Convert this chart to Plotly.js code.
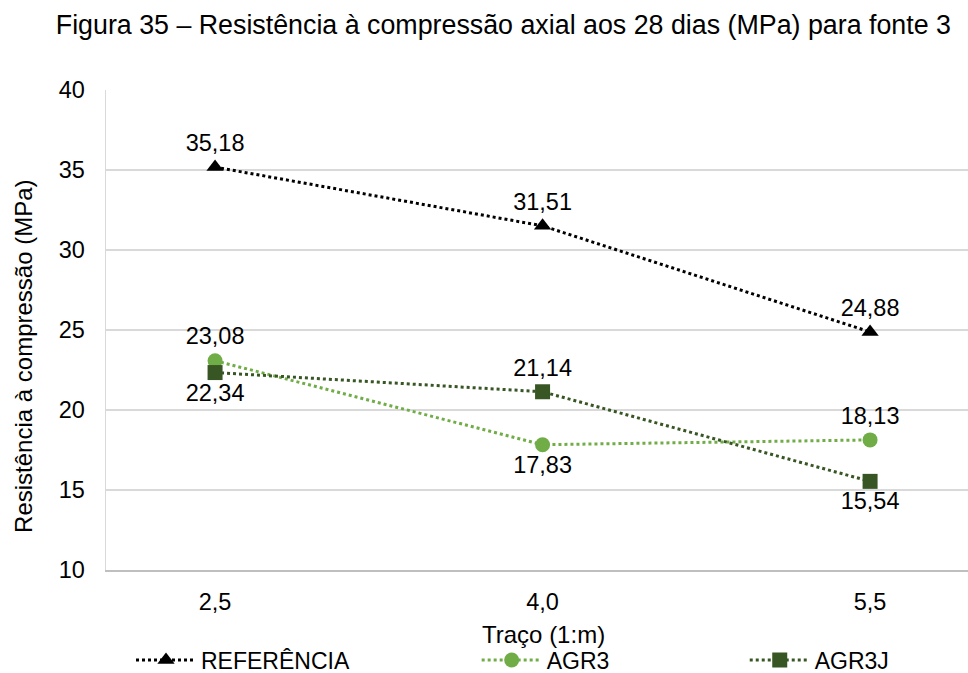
<!DOCTYPE html>
<html>
<head>
<meta charset="utf-8">
<script src="https://cdn.plot.ly/plotly-3.0.1.min.js"></script>
<style>html,body{margin:0;padding:0;background:#fff;}#chart{width:968px;height:673px;}</style>
</head>
<body>
<div id="chart"></div>
<script>
const categories = ["2,5", "4,0", "5,5"];
const referencia = [35.18, 31.51, 24.88];
const agr3 = [23.08, 17.83, 18.13];
const agr3j = [22.34, 21.14, 15.54];
const agr3Pos = ["top center", "bottom center", "top center"];
const agr3jPos = ["bottom center", "top center", "bottom center"];

const fmt = v => v.toFixed(2).replace('.', ',');
const FONT = '"Liberation Sans", Arial, sans-serif';
const labelFont = {family: FONT, size: 23.5, color: '#000'};

const traces = [
  {x: categories, y: referencia, name: 'REFERÊNCIA', type: 'scatter', mode: 'lines+markers+text',
   line: {color: '#000000', width: 3, dash: 'dot'},
   marker: {symbol: 'triangle-up', size: 15, color: '#000000'},
   text: referencia.map(fmt), textposition: 'top center', textfont: labelFont,
   legend: 'legend', cliponaxis: false},
  {x: categories, y: agr3, name: 'AGR3', type: 'scatter', mode: 'lines+markers+text',
   line: {color: '#70AD47', width: 3, dash: 'dot'},
   marker: {symbol: 'circle', size: 15, color: '#70AD47'},
   text: agr3.map(fmt), textposition: agr3Pos, textfont: labelFont,
   legend: 'legend2', cliponaxis: false},
  {x: categories, y: agr3j, name: 'AGR3J', type: 'scatter', mode: 'lines+markers+text',
   line: {color: '#375623', width: 3, dash: 'dot'},
   marker: {symbol: 'square', size: 15, color: '#375623'},
   text: agr3j.map(fmt), textposition: agr3jPos, textfont: labelFont,
   legend: 'legend3', cliponaxis: false}
];

const legBase = {orientation: 'h', yref: 'container', yanchor: 'middle', y: 0.0193, xanchor: 'left', itemwidth: 60,
  font: {family: FONT, size: 23, color: '#000'}, bgcolor: 'rgba(0,0,0,0)'};

const layout = {
  width: 968, height: 673,
  margin: {l: 106, r: 0, t: 90, b: 103, autoexpand: false},
  paper_bgcolor: '#ffffff', plot_bgcolor: '#ffffff',
  font: {family: FONT, size: 23, color: '#000'},
  title: {text: 'Figura 35 – Resistência à compressão axial aos 28 dias (MPa) para fonte 3',
    font: {family: FONT, size: 26.8, color: '#000'}, x: 0.52, xanchor: 'center', y: 0.963, yanchor: 'middle'},
  xaxis: {type: 'category', range: [-0.333, 2.299], showgrid: false, zeroline: false, automargin: false,
    showline: true, linecolor: '#bfbfbf', linewidth: 1.5, ticks: '', ticklabelstandoff: 10,
    tickfont: {family: FONT, size: 23.5, color: '#000'}},
  yaxis: {range: [10, 40], dtick: 5, showgrid: true, gridcolor: '#d9d9d9', gridwidth: 1.5, automargin: false,
    zeroline: false, showline: true, linecolor: '#d9d9d9', linewidth: 1.5, ticks: '',
    ticklabelstandoff: 15, tickfont: {family: FONT, size: 23.5, color: '#000'}},
  annotations: [
    {text: 'Resistência à compressão (MPa)', textangle: -90, showarrow: false,
     xref: 'paper', yref: 'paper', x: -0.0951, y: 0.444, xanchor: 'center', yanchor: 'middle',
     font: {family: FONT, size: 24, color: '#000'}},
    {text: 'Traço (1:m)', showarrow: false,
     xref: 'paper', yref: 'paper', x: 0.507, y: -0.134, xanchor: 'center', yanchor: 'middle',
     font: {family: FONT, size: 24, color: '#000'}}
  ],
  legend: Object.assign({}, legBase, {x: 0.029}),
  legend2: Object.assign({}, legBase, {x: 0.430}),
  legend3: Object.assign({}, legBase, {x: 0.741}),
  showlegend: true
};

Plotly.newPlot('chart', traces, layout, {displayModeBar: false, staticPlot: true});
</script>
</body>
</html>
